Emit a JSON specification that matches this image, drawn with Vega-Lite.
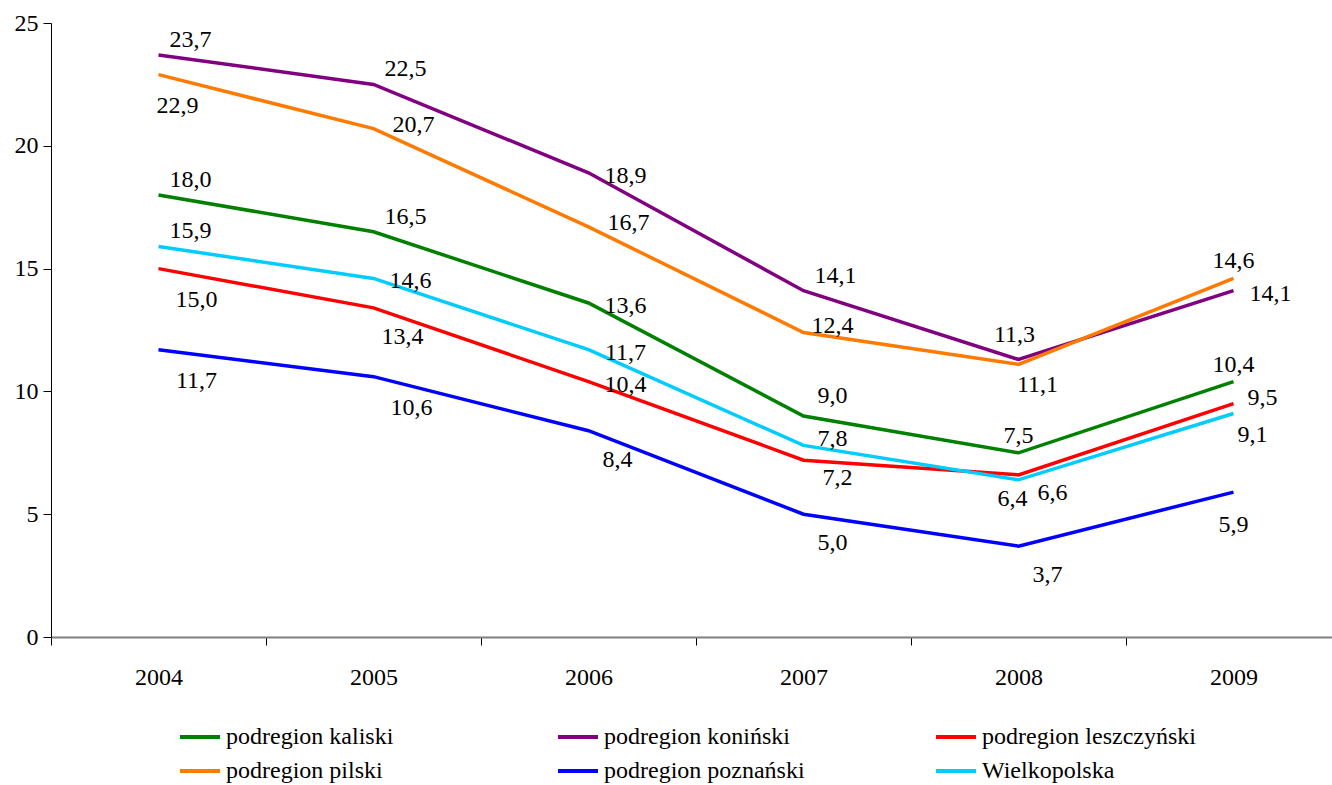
{
  "$schema": "https://vega.github.io/schema/vega-lite/v6.json",
  "autosize": {"type": "none"},
  "padding": {"left": 51, "top": 23, "right": 0, "bottom": 148},
  "width": 1281,
  "height": 614,
  "background": "white",
  "config": {
    "view": {"stroke": null},
    "locale": {"number": {"decimal": ",", "thousands": " ", "grouping": [3], "currency": ["", " zł"]}},
    "font": "Liberation Serif, Times New Roman, serif",
    "text": {"font": "Liberation Serif, Times New Roman, serif", "fontSize": 24, "color": "black", "align": "center", "baseline": "middle"}
  },
  "data": {"values": [
    {"series": "podregion kaliski", "year": "2004", "value": 18.0},
    {"series": "podregion kaliski", "year": "2005", "value": 16.5},
    {"series": "podregion kaliski", "year": "2006", "value": 13.6},
    {"series": "podregion kaliski", "year": "2007", "value": 9.0},
    {"series": "podregion kaliski", "year": "2008", "value": 7.5},
    {"series": "podregion kaliski", "year": "2009", "value": 10.4},
    {"series": "podregion koniński", "year": "2004", "value": 23.7},
    {"series": "podregion koniński", "year": "2005", "value": 22.5},
    {"series": "podregion koniński", "year": "2006", "value": 18.9},
    {"series": "podregion koniński", "year": "2007", "value": 14.1},
    {"series": "podregion koniński", "year": "2008", "value": 11.3},
    {"series": "podregion koniński", "year": "2009", "value": 14.1},
    {"series": "podregion leszczyński", "year": "2004", "value": 15.0},
    {"series": "podregion leszczyński", "year": "2005", "value": 13.4},
    {"series": "podregion leszczyński", "year": "2006", "value": 10.4},
    {"series": "podregion leszczyński", "year": "2007", "value": 7.2},
    {"series": "podregion leszczyński", "year": "2008", "value": 6.6},
    {"series": "podregion leszczyński", "year": "2009", "value": 9.5},
    {"series": "podregion pilski", "year": "2004", "value": 22.9},
    {"series": "podregion pilski", "year": "2005", "value": 20.7},
    {"series": "podregion pilski", "year": "2006", "value": 16.7},
    {"series": "podregion pilski", "year": "2007", "value": 12.4},
    {"series": "podregion pilski", "year": "2008", "value": 11.1},
    {"series": "podregion pilski", "year": "2009", "value": 14.6},
    {"series": "podregion poznański", "year": "2004", "value": 11.7},
    {"series": "podregion poznański", "year": "2005", "value": 10.6},
    {"series": "podregion poznański", "year": "2006", "value": 8.4},
    {"series": "podregion poznański", "year": "2007", "value": 5.0},
    {"series": "podregion poznański", "year": "2008", "value": 3.7},
    {"series": "podregion poznański", "year": "2009", "value": 5.9},
    {"series": "Wielkopolska", "year": "2004", "value": 15.9},
    {"series": "Wielkopolska", "year": "2005", "value": 14.6},
    {"series": "Wielkopolska", "year": "2006", "value": 11.7},
    {"series": "Wielkopolska", "year": "2007", "value": 7.8},
    {"series": "Wielkopolska", "year": "2008", "value": 6.4},
    {"series": "Wielkopolska", "year": "2009", "value": 9.1}
  ]},
  "encoding": {
    "x": {
      "field": "year", "type": "ordinal",
      "scale": {"type": "band", "paddingInner": 0, "paddingOuter": 0, "range": [0, 1290]},
      "axis": {
        "title": null, "labelAngle": 0, "grid": false,
        "domainColor": "#808080", "domainWidth": 2,
        "tickColor": "black", "tickSize": 8, "tickWidth": 1, "tickBand": "extent",
        "labelFont": "Liberation Serif, Times New Roman, serif", "labelFontSize": 24, "labelColor": "black", "labelPadding": 20
      }
    },
    "y": {
      "field": "value", "type": "quantitative",
      "scale": {"domain": [0, 25], "nice": false, "zero": true},
      "axis": {
        "title": null, "grid": false, "values": [0, 5, 10, 15, 20, 25],
        "domainColor": "black", "domainWidth": 1,
        "tickColor": "black", "tickSize": 8, "tickWidth": 1,
        "labelFont": "Liberation Serif, Times New Roman, serif", "labelFontSize": 24, "labelColor": "black", "labelPadding": 5
      }
    }
  },
  "layer": [
    {
      "mark": {"type": "line", "strokeWidth": 3.5},
      "encoding": {
        "color": {
          "field": "series", "type": "nominal",
          "scale": {
            "domain": ["podregion kaliski", "podregion koniński", "podregion leszczyński", "podregion pilski", "podregion poznański", "Wielkopolska"],
            "range": ["#008000", "#800080", "#FF0000", "#FF7A00", "#0000FF", "#00CCFF"]
          },
          "legend": {
            "title": null, "orient": "none", "legendX": 127, "legendY": 692,
            "direction": "horizontal", "columns": 3, "gridAlign": "all",
            "columnPadding": 110, "rowPadding": -4,
            "symbolType": "stroke", "symbolStrokeWidth": 4, "symbolSize": 1600,
            "labelFont": "Liberation Serif, Times New Roman, serif", "labelFontSize": 24, "labelColor": "black",
            "labelOffset": 4, "labelLimit": 400
          }
        }
      }
    },
    {
      "transform": [{"filter": "indexof(['podregion koniński|2004','podregion koniński|2005','podregion kaliski|2004','podregion kaliski|2005','Wielkopolska|2004','podregion koniński|2007'], datum.series + '|' + datum.year) >= 0"}],
      "mark": {"type": "text", "dx": 32, "dy": -15},
      "encoding": {"text": {"field": "value", "type": "quantitative", "format": ".1f"}}
    },
    {
      "transform": [{"filter": "indexof(['podregion kaliski|2007'], datum.series + '|' + datum.year) >= 0"}],
      "mark": {"type": "text", "dx": 29, "dy": -20},
      "encoding": {"text": {"field": "value", "type": "quantitative", "format": ".1f"}}
    },
    {
      "transform": [{"filter": "indexof(['podregion pilski|2007','Wielkopolska|2007','podregion leszczyński|2009'], datum.series + '|' + datum.year) >= 0"}],
      "mark": {"type": "text", "dx": 29, "dy": -6},
      "encoding": {"text": {"field": "value", "type": "quantitative", "format": ".1f"}}
    },
    {
      "transform": [{"filter": "indexof(['podregion pilski|2005','podregion pilski|2006'], datum.series + '|' + datum.year) >= 0"}],
      "mark": {"type": "text", "dx": 40, "dy": -4},
      "encoding": {"text": {"field": "value", "type": "quantitative", "format": ".1f"}}
    },
    {
      "transform": [{"filter": "indexof(['podregion koniński|2006','podregion kaliski|2006','Wielkopolska|2006','podregion leszczyński|2006','Wielkopolska|2005','podregion koniński|2009'], datum.series + '|' + datum.year) >= 0"}],
      "mark": {"type": "text", "dx": 37, "dy": 3},
      "encoding": {"text": {"field": "value", "type": "quantitative", "format": ".1f"}}
    },
    {
      "transform": [{"filter": "indexof(['podregion leszczyński|2004','podregion poznański|2004','podregion poznański|2005'], datum.series + '|' + datum.year) >= 0"}],
      "mark": {"type": "text", "dx": 38, "dy": 31},
      "encoding": {"text": {"field": "value", "type": "quantitative", "format": ".1f"}}
    },
    {
      "transform": [{"filter": "indexof(['podregion leszczyński|2005','podregion poznański|2006','podregion poznański|2007','podregion poznański|2008'], datum.series + '|' + datum.year) >= 0"}],
      "mark": {"type": "text", "dx": 29, "dy": 29},
      "encoding": {"text": {"field": "value", "type": "quantitative", "format": ".1f"}}
    },
    {
      "transform": [{"filter": "indexof(['podregion leszczyński|2007','podregion leszczyński|2008'], datum.series + '|' + datum.year) >= 0"}],
      "mark": {"type": "text", "dx": 34, "dy": 18},
      "encoding": {"text": {"field": "value", "type": "quantitative", "format": ".1f"}}
    },
    {
      "transform": [{"filter": "indexof(['podregion pilski|2008','Wielkopolska|2009'], datum.series + '|' + datum.year) >= 0"}],
      "mark": {"type": "text", "dx": 19, "dy": 21},
      "encoding": {"text": {"field": "value", "type": "quantitative", "format": ".1f"}}
    },
    {
      "transform": [{"filter": "indexof(['podregion pilski|2004'], datum.series + '|' + datum.year) >= 0"}],
      "mark": {"type": "text", "dx": 19, "dy": 31},
      "encoding": {"text": {"field": "value", "type": "quantitative", "format": ".1f"}}
    },
    {
      "transform": [{"filter": "indexof(['podregion pilski|2009','podregion kaliski|2009','podregion kaliski|2008'], datum.series + '|' + datum.year) >= 0"}],
      "mark": {"type": "text", "dx": 0, "dy": -17},
      "encoding": {"text": {"field": "value", "type": "quantitative", "format": ".1f"}}
    },
    {
      "transform": [{"filter": "indexof(['podregion koniński|2008'], datum.series + '|' + datum.year) >= 0"}],
      "mark": {"type": "text", "dx": -4, "dy": -24},
      "encoding": {"text": {"field": "value", "type": "quantitative", "format": ".1f"}}
    },
    {
      "transform": [{"filter": "indexof(['Wielkopolska|2008'], datum.series + '|' + datum.year) >= 0"}],
      "mark": {"type": "text", "dx": -6, "dy": 19},
      "encoding": {"text": {"field": "value", "type": "quantitative", "format": ".1f"}}
    },
    {
      "transform": [{"filter": "indexof(['podregion poznański|2009'], datum.series + '|' + datum.year) >= 0"}],
      "mark": {"type": "text", "dx": 0, "dy": 33},
      "encoding": {"text": {"field": "value", "type": "quantitative", "format": ".1f"}}
    }
  ]
}
